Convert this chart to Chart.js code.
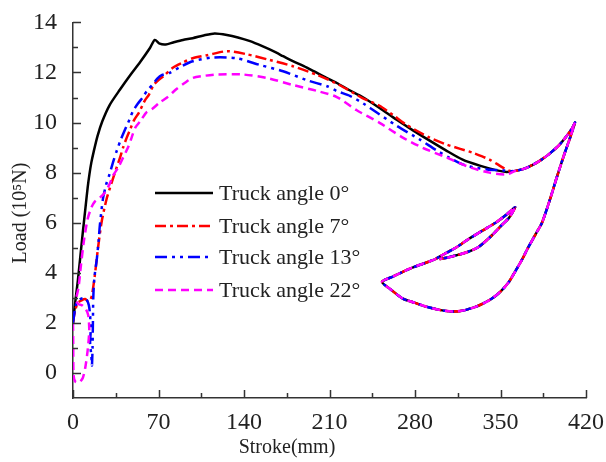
<!DOCTYPE html>
<html>
<head>
<meta charset="utf-8">
<script src="https://cdn.jsdelivr.net/npm/chart.js@4.4.1/dist/chart.umd.min.js"></script>
<style>
html, body { margin: 0; padding: 0; background: #fff; }
</style>
</head>
<body>
<canvas id="Line" width="606" height="462"></canvas>
<script>
// Load vs stroke, four truck angles
var seriesLabels = ["Truck angle 0°", "Truck angle 7°", "Truck angle 13°", "Truck angle 22°"];
var xTicks = [0, 70, 140, 210, 280, 350, 420];
var yTicks = [0, 2, 4, 6, 8, 10, 12, 14];

// loading part, angle 0
var x0 = [0, 2, 4, 6, 8, 10, 12, 13.5, 15, 17, 20, 24, 30, 38.5, 46.5, 55, 63, 67, 71, 76, 82,
          90, 98, 107, 116, 126, 135, 145, 155, 164, 172, 180, 189, 197, 206, 216, 226, 237, 251, 265, 278,
          292, 305, 319, 333, 347, 355];
var y0 = [2.0, 2.9, 3.7, 4.65, 5.6, 6.5, 7.4, 7.95, 8.4, 8.85, 9.45, 10.05, 10.7, 11.32, 11.87, 12.42, 12.98, 13.3, 13.15, 13.12, 13.2,
          13.3, 13.37, 13.48, 13.56, 13.5, 13.4, 13.25, 13.05, 12.85, 12.65, 12.45, 12.25, 12.05, 11.82, 11.58, 11.3, 11.02, 10.58, 10.11, 9.7,
          9.28, 8.9, 8.52, 8.28, 8.09, 8.03];

// angle 7
var x7 = [0, 1.5, 4, 7, 10, 12.5, 14, 15.5, 18, 20.5, 23.5, 27.5, 31, 35, 38.5, 41, 44, 47, 50, 54,
          59, 62, 66, 70, 74, 82, 90, 98, 110, 126, 142, 161, 180, 200, 218, 237, 251, 262, 273, 292,
          306, 317, 327, 335, 341, 347, 352, 357];
var y7 = [2.0, 2.45, 2.8, 2.9, 2.95, 2.85, 2.9, 3.1, 3.95, 5.0, 6.05, 6.95, 7.5, 8.1, 8.6, 9.0, 9.4, 9.75, 10.1, 10.4,
          10.9, 11.1, 11.5, 11.7, 11.85, 12.2, 12.4, 12.57, 12.69, 12.85, 12.73, 12.5, 12.25, 11.9, 11.5, 10.98, 10.67, 10.3, 9.91, 9.4,
          9.12, 8.95, 8.8, 8.65, 8.52, 8.35, 8.2, 8.08];

// angle 13
var x13 = [0, 1.5, 3, 6, 9, 11, 13, 14, 14.5, 14, 15, 15.5, 16, 16.3, 16.6, 17.5, 19.5, 21, 22, 24.5,
           27, 30, 33, 36, 39, 42, 46.5, 49, 53, 57, 61, 65, 69, 73, 79, 87, 98, 115, 134, 153,
           172, 191, 208, 216, 227, 238, 249, 265, 284, 298, 308, 319, 329, 339, 352, 358];
var y13 = [2.0, 2.5, 2.8, 2.95, 3.0, 2.95, 2.7, 2.3, 1.7, 1.2, 0.7, 0.3, 1.0, 2.0, 3.0, 3.8, 4.55, 5.3, 5.9, 6.95,
           7.5, 7.95, 8.45, 8.9, 9.3, 9.65, 10.15, 10.45, 10.75, 11.0, 11.3, 11.5, 11.75, 11.9, 11.98, 12.2, 12.45, 12.6, 12.57, 12.3,
           12.05, 11.7, 11.45, 11.26, 11.06, 10.75, 10.39, 9.87, 9.32, 8.88, 8.6, 8.33, 8.2, 8.13, 8.09, 8.06];

// angle 22
var x22 = [0, 0.2, 0.5, 2, 5, 8, 10, 12, 13.3, 12.5, 10.5, 7.5, 4.5, 2.5, 4.5, 6.5, 9, 12, 15, 18,
           22, 26, 30, 33, 37, 41, 45, 48, 51, 55, 60, 65, 71, 77, 85, 92, 98, 108, 118, 139,
           159, 180, 200, 216, 232, 251, 270, 286, 306, 325, 341, 355];
var y22 = [2.0, 1.0, -0.1, -0.35, -0.38, -0.2, 0.2, 0.9, 1.7, 2.3, 2.55, 2.7, 2.75, 2.9, 3.4, 4.3, 5.3, 6.15, 6.6, 6.85,
           7.0, 7.2, 7.55, 7.9, 8.2, 8.6, 9.0, 9.4, 9.8, 10.05, 10.4, 10.55, 10.8, 11.0, 11.35, 11.6, 11.78, 11.87, 11.92, 11.92,
           11.78, 11.5, 11.26, 11.02, 10.5, 9.99, 9.4, 9.0, 8.6, 8.21, 8.0, 7.93];

// unloading loop, common to all angles
var tailX = [362, 369, 376, 383, 390, 398, 404, 409, 411, 407, 402, 396, 390, 384, 380, 376, 372, 368, 362, 357,
             350, 343, 336, 330, 320, 311, 300, 289, 280, 270, 261, 253, 262, 270, 280, 290, 297, 305, 314, 324,
             335, 346, 355, 362, 357, 351, 342, 332, 323, 314, 306, 300];
var tailY = [8.07, 8.15, 8.3, 8.5, 8.75, 9.1, 9.45, 9.8, 10.0, 9.4, 8.7, 7.8, 6.85, 6.0, 5.65, 5.3, 4.95, 4.56, 4.05, 3.64,
             3.25, 2.97, 2.78, 2.65, 2.5, 2.45, 2.52, 2.65, 2.8, 2.97, 3.3, 3.64, 3.85, 4.04, 4.25, 4.42, 4.56, 4.78, 5.02, 5.35,
             5.68, 6.0, 6.33, 6.62, 6.2, 5.9, 5.45, 5.03, 4.83, 4.7, 4.6, 4.55];

function pts(xs, ys) {
    xs = xs.concat(tailX); ys = ys.concat(tailY);
    return xs.map(function (x, i) { return { x: x, y: ys[i] }; });
}

var FONT = "'Liberation Serif', 'Times New Roman', serif";

var data = {
    datasets: [
        {
        label: seriesLabels[0],
        data: pts(x0, y0),
        borderColor: "#000000",
        borderWidth: 2.5,
        borderDash: [],
        order: 4
        },
        {
        label: seriesLabels[1],
        data: pts(x7, y7),
        borderColor: "#ff0000",
        borderWidth: 2.5,
        borderDash: [11, 4, 3, 4],
        order: 3
        },
        {
        label: seriesLabels[2],
        data: pts(x13, y13),
        borderColor: "#0000ff",
        borderWidth: 2.5,
        borderDash: [12, 5, 3, 5, 3, 5],
        order: 2
        },
        {
        label: seriesLabels[3],
        data: pts(x22, y22),
        borderColor: "#ff00ff",
        borderWidth: 2.5,
        borderDash: [8, 5],
        order: 1
        }
    ]
};
data.datasets.forEach(function (ds) {
    ds.showLine = true;
    ds.fill = false;
    ds.pointRadius = 0;
    ds.tension = 0.25;
});

// inward ticks, like the original figure
var inTicks = {
    id: "inTicks",
    afterDraw: function (chart) {
        var ctx = chart.ctx, a = chart.chartArea;
        var xs = chart.scales.x, ys = chart.scales.y;
        ctx.save();
        ctx.strokeStyle = "#333";
        ctx.lineWidth = 1.5;
        ctx.beginPath();
        for (var v = 0; v <= 420; v += 35) {
            var px = Math.round(xs.getPixelForValue(v)) + 0.5;
            ctx.moveTo(px, a.bottom);
            ctx.lineTo(px, a.bottom - (v % 70 === 0 ? 8 : 5));
        }
        for (var w = 0; w <= 14; w += 1) {
            var py = Math.round(ys.getPixelForValue(w)) + 0.5;
            ctx.moveTo(a.left, py);
            ctx.lineTo(a.left + (w % 2 === 0 ? 8 : 5), py);
        }
        ctx.stroke();
        ctx.restore();
    }
};

// legend inside the plot + axis titles
var legendRows = [193, 226, 257, 290];
var decor = {
    id: "decor",
    afterDraw: function (chart) {
        var ctx = chart.ctx;
        ctx.save();
        chart.data.datasets.forEach(function (ds, i) {
            var y = legendRows[i];
            ctx.strokeStyle = ds.borderColor;
            ctx.lineWidth = ds.borderWidth;
            ctx.setLineDash(ds.borderDash);
            ctx.beginPath();
            ctx.moveTo(155, y);
            ctx.lineTo(213, y);
            ctx.stroke();
            ctx.setLineDash([]);
            ctx.fillStyle = "#222";
            ctx.font = "22px " + FONT;
            ctx.textBaseline = "middle";
            ctx.textAlign = "left";
            ctx.fillText(ds.label, 219, y + 1);
        });
        ctx.fillStyle = "#222";
        ctx.font = "20px " + FONT;
        ctx.textAlign = "center";
        ctx.textBaseline = "middle";
        ctx.fillText("Stroke(mm)", 287, 448);
        ctx.translate(21, 213);
        ctx.rotate(-Math.PI / 2);
        ctx.fillText("Load (10\u2075N)", 0, 0);
        ctx.restore();
    }
};

var ctx = document.getElementById("Line").getContext("2d");

var myLineChart = new Chart(ctx, {
    type: "scatter",
    data: data,
    plugins: [inTicks, decor],
    options: {
        responsive: false,
        animation: false,
        events: [],
        layout: { padding: { top: 19, right: 20, left: 0, bottom: 0 } },
        plugins: {
            legend: { display: false },
            tooltip: { enabled: false }
        },
        scales: {
            x: {
                type: "linear",
                min: 0,
                max: 420,
                afterBuildTicks: function (s) { s.ticks = xTicks.map(function (v) { return { value: v }; }); },
                afterFit: function (s) { s.height = 64; },
                grid: { display: false },
                border: { display: true, color: "#333", width: 1.5 },
                ticks: { font: { family: FONT, size: 24 }, color: "#222", padding: 2, maxRotation: 0, autoSkip: false }
            },
            y: {
                type: "linear",
                min: -1,
                max: 14,
                afterBuildTicks: function (s) { s.ticks = yTicks.map(function (v) { return { value: v }; }); },
                afterFit: function (s) { s.width = 73; },
                grid: { display: false },
                border: { display: true, color: "#333", width: 1.5 },
                ticks: { font: { family: FONT, size: 24 }, color: "#222", padding: 8, autoSkip: false }
            }
        }
    }
});
</script>
</body>
</html>
